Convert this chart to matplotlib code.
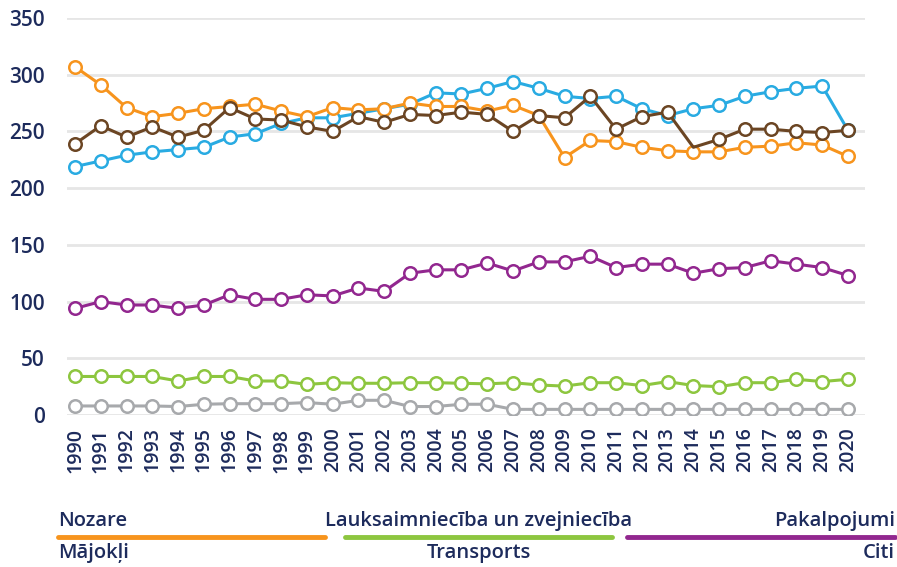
import numpy as np
import matplotlib
matplotlib.use("Agg")
from matplotlib import pyplot as plt
from matplotlib.lines import Line2D

years = list(range(1990, 2021))

orange = [307, 291, 271, 263, 266, 270, 272, 274, 268, 263, 271, 269, 270, 275, 272, 272, 268, 273, 264, 227,
          242, 241, 236, 233, 232, 232, 236, 237, 240, 238, 228]
blue = [219, 224, 229, 232, 234, 236, 245, 248, 257, 262, 262, 266, 270, 274, 284, 283, 288, 294, 288, 281,
        279, 281, 270, 264, 270, 273, 281, 285, 288, 290, 251]
brown = [239, 255, 245, 254, 245, 251, 271, 261, 260, 254, 250, 263, 258, 265, 264, 267, 265, 250, 264, 262,
         281, 252, 263, 267, 236, 243, 252, 252, 250, 249, 251]
purple = [94, 100, 97, 97, 94, 97, 106, 102, 102, 106, 105, 112, 109, 125, 128, 128, 134, 127, 135, 135,
          140, 130, 133, 133, 125, 129, 130, 136, 133, 130, 123]
green = [34, 34, 34, 34, 30, 34, 34, 30, 30, 27, 28.5, 28, 28, 28.5, 28.5, 28, 27.5, 28.5, 26.5, 25.5,
         28.5, 28.5, 26, 29.5, 26, 25, 28.5, 28.5, 31.5, 29.5, 31.5]
gray = [8, 8, 8, 8, 7.5, 9.5, 10, 10, 10, 11, 9.5, 13, 13, 7.5, 7.5, 9.5, 9.5, 5, 5, 5,
        5, 5, 5, 5, 5, 5, 5, 5, 5, 5, 5]

legend_top = ["Nozare", "Lauksaimniecība un zvejniecība", "Pakalpojumi"]
legend_bottom = ["Mājokļi", "Transports", "Citi"]

c_orange = "#f7941d"
c_blue = "#29abe2"
c_brown = "#6b4523"
c_purple = "#92278f"
c_green = "#8dc63f"
c_gray = "#a7a9ac"
navy = "#1d2b5c"

plt.rcParams['font.family'] = ['Open Sans', 'DejaVu Sans']

fig = plt.figure(figsize=(8.97, 5.67), dpi=100)
ax = fig.add_axes([0.0747, 0.268, 0.8896, 0.7003])

# brown series has no marker drawn at 2014 in the original
brown_marks = [i for i in range(len(years)) if years[i] != 2014]
series = [(gray, c_gray, None), (green, c_green, None), (purple, c_purple, None),
          (blue, c_blue, None), (orange, c_orange, None), (brown, c_brown, brown_marks)]
for vals, col, every in series:
    ax.plot(years, vals, color=col, lw=2.2, marker='o', ms=9, mfc='white',
            mec=col, mew=1.8, markevery=every, zorder=3)

ax.set_ylim(0, 350)
ax.set_xlim(1989.69, 2020.66)
ax.set_yticks(range(0, 351, 50))
ax.set_xticks(years)
ax.set_xticklabels([str(y) for y in years], rotation=90, fontsize=14,
                   fontweight='semibold', color=navy)
for lab in ax.get_yticklabels():
    lab.set_fontsize(15)
    lab.set_fontweight('semibold')
    lab.set_color(navy)
ax.tick_params(axis='both', length=0)
ax.tick_params(axis='y', pad=16)
ax.tick_params(axis='x', pad=9)
ax.grid(axis='y', color='#e6e6e6', lw=2)
ax.set_axisbelow(True)
for s in ax.spines.values():
    s.set_visible(False)

# legend drawn as figure text + colored bars
W, H = 897, 567
segs = [(58, 325, c_orange), (345, 612, c_green), (627, 895, c_purple)]
for i, (x0, x1, col) in enumerate(segs):
    fig.add_artist(Line2D([x0 / W, x1 / W], [1 - 537 / H, 1 - 537 / H],
                          color=col, lw=3.5, solid_capstyle='round'))
    if i == 0:
        xt, ha = x0 / W, 'left'
    elif i == 1:
        xt, ha = (x0 + x1) / 2 / W, 'center'
    else:
        xt, ha = x1 / W, 'right'
    fig.text(xt, 1 - 521 / H, legend_top[i], ha=ha, va='center', fontsize=14.5,
             fontweight='semibold', color=navy)
    fig.text(xt, 1 - 553 / H, legend_bottom[i], ha=ha, va='center', fontsize=14.5,
             fontweight='semibold', color=navy)

fig.savefig("out.png", dpi=100)
